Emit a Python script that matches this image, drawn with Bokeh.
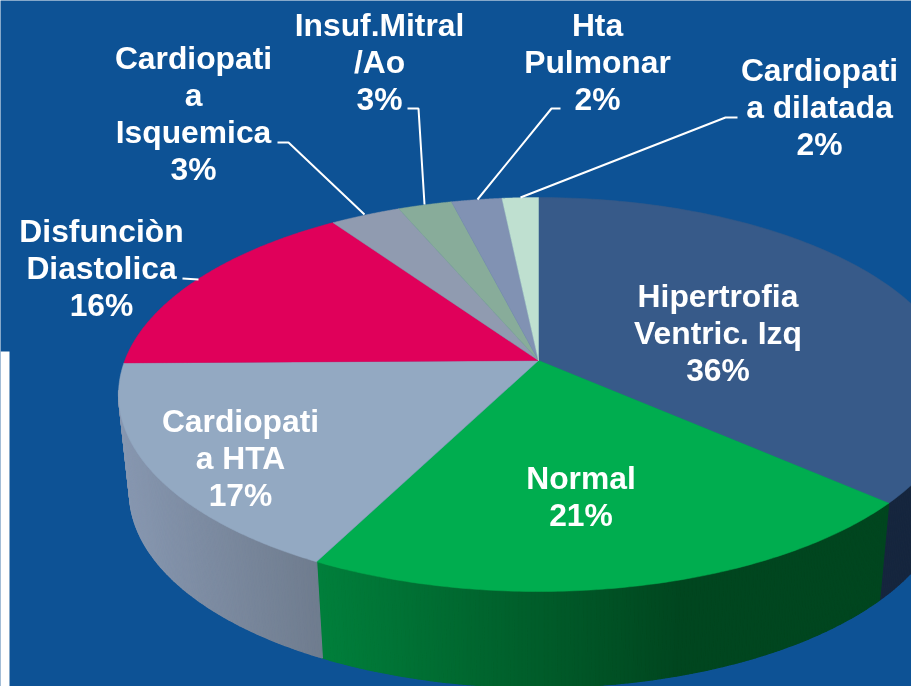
import numpy as np
from bokeh.plotting import figure
from bokeh.models import Range1d
from bokeh.core.properties import value
from bokeh.embed import file_html
from bokeh.resources import INLINE

categories = ["Hipertrofia Ventric. Izq", "Normal", "Cardiopatia HTA", "Disfunciòn Diastolica",
              "Cardiopatia Isquemica", "Insuf.Mitral /Ao", "Hta Pulmonar", "Cardiopatia dilatada"]
shares = [36.5, 21.0, 17.3, 15.6, 3.2, 2.45, 2.3, 1.65]
top_colors = ["#375a89", "#00ad4f", "#93a9c2", "#e0005a", "#909bb0", "#88ac9a", "#8192b3", "#bfe0d0"]
wall_left = ["#16263e", "#007f3b", "#8797b0", "#8a1040", "#707d8e", "#607f70", "#5d6d8c", "#8aa99a"]
wall_right = ["#16263e", "#00461f", "#6f7c8e", "#8a1040", "#707d8e", "#607f70", "#5d6d8c", "#8aa99a"]

BG = "#0d5295"
FONT = "Liberation Sans"
FS = "31.8px"
TEXT_DY = -11

# (text, x centre, baseline y) for every label line
label_lines = [
    ("Hipertrofia", 717.5, 306), ("Ventric. Izq", 717.5, 343), ("36%", 717.5, 380),
    ("Normal", 580.5, 488), ("21%", 580.5, 525),
    ("Cardiopati", 240, 431), ("a HTA", 240, 468), ("17%", 240, 505),
    ("Disfunciòn", 101, 241), ("Diastolica", 101, 278), ("16%", 101, 315),
    ("Cardiopati", 193, 68), ("a", 193, 105), ("Isquemica", 193, 142), ("3%", 193, 179),
    ("Insuf.Mitral", 379, 35), ("/Ao", 379, 72), ("3%", 379, 109),
    ("Hta", 597, 35), ("Pulmonar", 597, 72), ("2%", 597, 109),
    ("Cardiopati", 819, 80), ("a dilatada", 819, 117), ("2%", 819, 154),
]
leaders = [
    ([182, 198], [278, 279]),
    ([277, 288, 364], [142, 142, 214]),
    ([407, 418, 424], [108, 108, 204]),
    ([560, 551, 477], [108, 108, 199]),
    ([737, 725, 520], [117, 117, 197]),
]

# projected geometry of the disc
CX, CY_TOP, RX_TOP, RY_TOP = 538.0, 394.0, 420.0, 197.0
CY_BOT, RX_BOT, RY_BOT = 492.0, 409.0, 195.0
HUB_Y = 360.0
c = (CY_TOP - HUB_Y) / RY_TOP
w = 1j * (1 - np.sqrt(1 - c * c)) / c


def project(a_deg):
    """Clock angle of the disc -> angle on the projected ellipse."""
    z = np.exp(1j * np.radians(90 - np.asarray(a_deg, dtype=float)))
    return np.angle((z + w) / (1 + np.conj(w) * z))


def top_pt(phi):
    return CX + RX_TOP * np.cos(phi), CY_TOP - RY_TOP * np.sin(phi)


def bot_pt(phi):
    return CX + RX_BOT * np.cos(phi), CY_BOT - RY_BOT * np.sin(phi)


def mix(h1, h2, t):
    a = [int(h1[i:i + 2], 16) for i in (1, 3, 5)]
    b = [int(h2[i:i + 2], 16) for i in (1, 3, 5)]
    return "#%02x%02x%02x" % tuple(int(round(x + (y - x) * t)) for x, y in zip(a, b))


p = figure(width=911, height=686, x_range=Range1d(0, 911), y_range=Range1d(686, 0),
           output_backend="svg", toolbar_location=None, min_border=0,
           background_fill_color=BG, border_fill_color=BG, outline_line_color=None)
p.axis.visible = False
p.grid.visible = False
p.styles = {"position": "fixed", "left": "0px", "top": "0px"}

# white strip of the original slide
p.quad(left=[0], right=[9], top=[351], bottom=[686], fill_color="white", line_color=None)

edges = np.concatenate([[0], np.cumsum(shares)]) / sum(shares) * 360.0

# side wall
xs, ys, cols = [], [], []
for i in range(3):
    a0, a1 = edges[i], edges[i + 1]
    aa = np.arange(a0, a1 + 1e-6, 0.5)
    aa = np.append(aa, a1) if aa[-1] < a1 else aa
    phis = np.unwrap(project(aa))
    for j in range(len(aa) - 1):
        ph0, ph1 = phis[j], phis[j + 1]
        if np.sin((ph0 + ph1) / 2) > 0.02:
            continue
        tx0, ty0 = top_pt(ph0); tx1, ty1 = top_pt(ph1)
        bx0, by0 = bot_pt(ph0); bx1, by1 = bot_pt(ph1)
        xs.append([tx0, tx1, bx1, bx0]); ys.append([ty0 - 1, ty1 - 1, by1, by0])
        xm = (tx0 + tx1) / 2
        if i == 1:
            t = (xm - 318) / (680 - 318)
        elif i == 2:
            t = (xm - 118) / (318 - 118)
        else:
            t = 0
        cols.append(mix(wall_left[i], wall_right[i], float(np.clip(t, 0, 1))))
p.patches(xs, ys, fill_color=cols, line_color=cols, line_width=1.2)

# top faces
for i in range(len(shares)):
    aa = np.linspace(edges[i], edges[i + 1], 120)
    ex, ey = top_pt(project(aa))
    p.patch(np.concatenate([[CX], ex]), np.concatenate([[HUB_Y], ey]),
            fill_color=top_colors[i], line_color=top_colors[i], line_width=0.5)

# leader lines
for lx, ly in leaders:
    p.line(lx, ly, line_color="white", line_width=2)

# labels
p.text([l[1] for l in label_lines], [l[2] + TEXT_DY for l in label_lines], text=[l[0] for l in label_lines],
       text_color="white", text_font=value(FONT), text_font_style="bold",
       text_font_size=FS, text_align="center", text_baseline="alphabetic")

open("out.html", "w").write(file_html(p, INLINE))
